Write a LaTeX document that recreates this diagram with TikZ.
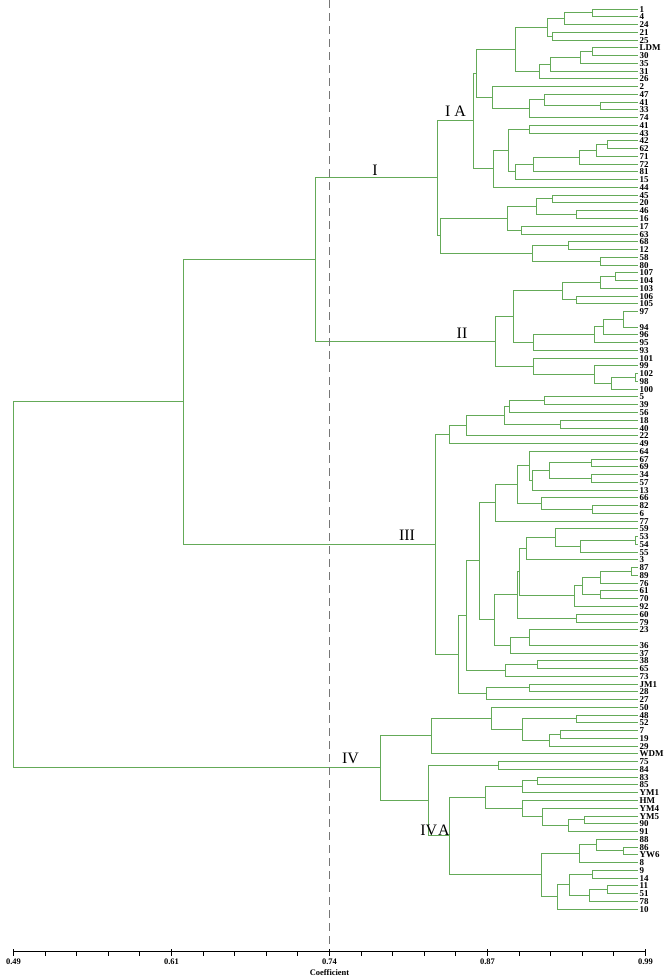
\documentclass[tikz,border=0pt]{standalone}
\usepackage{fontspec}
\setmainfont{Liberation Serif}
\usetikzlibrary{calc}
\definecolor{treegreen}{RGB}{100,170,88}
\definecolor{dashgray}{RGB}{118,118,118}
\newdimen\mgdim
\makeatletter
\newcommand\mergenode[4]{%
  \coordinate (#1-m) at ($(#3)!.5!(#4)$);
  \pgfextracty{\mgdim}{\pgfpointanchor{#1-m}{center}}%
  \pgfmathsetmacro\mgy{floor(0-(\strip@pt\mgdim)*0.99626)+0.5}%
  \coordinate (#1) at ({floor(#2)+0.5},\mgy);
  \draw[br] (#3) -| (#1) |- (#4);}
\makeatother
\newcommand\leafnode[3]{%
  \coordinate (#1) at (637.5,{floor(9+(#2-1)*7.76)+0.5});
  \node[lflab] (t#1) at (639.5,{floor(9+(#2-1)*7.76)+0.5}) {#3};}
\begin{document}
\begin{tikzpicture}[x=1bp,y=-1bp,
  br/.style={draw=treegreen,line width=1bp},
  lflab/.style={anchor=west,inner sep=0pt,font=\fontsize{9}{9}\selectfont\bfseries,text height=6pt,text depth=0pt},
  grp/.style={anchor=base,inner sep=0pt,font=\fontsize{16}{16}\selectfont},
  tklab/.style={anchor=base,inner sep=0pt,font=\fontsize{8.5}{8.5}\selectfont\bfseries},
  axisline/.style={draw=black,line width=1.5bp},
  tick/.style={draw=black,line width=1bp},
  cut/.style={draw=dashgray,line width=1.6bp,dash pattern=on 8bp off 5bp}]
\useasboundingbox (0,0) rectangle (667,979);
% leaves
\leafnode{L1}{1}{1}
\leafnode{L2}{2}{4}
\leafnode{L3}{3}{24}
\leafnode{L4}{4}{21}
\leafnode{L5}{5}{25}
\leafnode{L6}{6}{LDM}
\leafnode{L7}{7}{30}
\leafnode{L8}{8}{35}
\leafnode{L9}{9}{31}
\leafnode{L10}{10}{26}
\leafnode{L11}{11}{2}
\leafnode{L12}{12}{47}
\leafnode{L13}{13}{41}
\leafnode{L14}{14}{33}
\leafnode{L15}{15}{74}
\leafnode{L16}{16}{41}
\leafnode{L17}{17}{43}
\leafnode{L18}{18}{42}
\leafnode{L19}{19}{62}
\leafnode{L20}{20}{71}
\leafnode{L21}{21}{72}
\leafnode{L22}{22}{81}
\leafnode{L23}{23}{15}
\leafnode{L24}{24}{44}
\leafnode{L25}{25}{45}
\leafnode{L26}{26}{20}
\leafnode{L27}{27}{46}
\leafnode{L28}{28}{16}
\leafnode{L29}{29}{17}
\leafnode{L30}{30}{63}
\leafnode{L31}{31}{68}
\leafnode{L32}{32}{12}
\leafnode{L33}{33}{58}
\leafnode{L34}{34}{80}
\leafnode{L35}{35}{107}
\leafnode{L36}{36}{104}
\leafnode{L37}{37}{103}
\leafnode{L38}{38}{106}
\leafnode{L39}{39}{105}
\leafnode{L40}{40}{97}
\leafnode{L42}{42}{94}
\leafnode{L43}{43}{96}
\leafnode{L44}{44}{95}
\leafnode{L45}{45}{93}
\leafnode{L46}{46}{101}
\leafnode{L47}{47}{99}
\leafnode{L48}{48}{102}
\leafnode{L49}{49}{98}
\leafnode{L50}{50}{100}
\leafnode{L51}{51}{5}
\leafnode{L52}{52}{39}
\leafnode{L53}{53}{56}
\leafnode{L54}{54}{18}
\leafnode{L55}{55}{40}
\leafnode{L56}{56}{22}
\leafnode{L57}{57}{49}
\leafnode{L58}{58}{64}
\leafnode{L59}{59}{67}
\leafnode{L60}{60}{69}
\leafnode{L61}{61}{34}
\leafnode{L62}{62}{57}
\leafnode{L63}{63}{13}
\leafnode{L64}{64}{66}
\leafnode{L65}{65}{82}
\leafnode{L66}{66}{6}
\leafnode{L67}{67}{77}
\leafnode{L68}{68}{59}
\leafnode{L69}{69}{53}
\leafnode{L70}{70}{54}
\leafnode{L71}{71}{55}
\leafnode{L72}{72}{3}
\leafnode{L73}{73}{87}
\leafnode{L74}{74}{89}
\leafnode{L75}{75}{76}
\leafnode{L76}{76}{61}
\leafnode{L77}{77}{70}
\leafnode{L78}{78}{92}
\leafnode{L79}{79}{60}
\leafnode{L80}{80}{79}
\leafnode{L81}{81}{23}
\leafnode{L83}{83}{36}
\leafnode{L84}{84}{37}
\leafnode{L85}{85}{38}
\leafnode{L86}{86}{65}
\leafnode{L87}{87}{73}
\leafnode{L88}{88}{JM1}
\leafnode{L89}{89}{28}
\leafnode{L90}{90}{27}
\leafnode{L91}{91}{50}
\leafnode{L92}{92}{48}
\leafnode{L93}{93}{52}
\leafnode{L94}{94}{7}
\leafnode{L95}{95}{19}
\leafnode{L96}{96}{29}
\leafnode{L97}{97}{WDM}
\leafnode{L98}{98}{75}
\leafnode{L99}{99}{84}
\leafnode{L100}{100}{83}
\leafnode{L101}{101}{85}
\leafnode{L102}{102}{YM1}
\leafnode{L103}{103}{HM}
\leafnode{L104}{104}{YM4}
\leafnode{L105}{105}{YM5}
\leafnode{L106}{106}{90}
\leafnode{L107}{107}{91}
\leafnode{L108}{108}{88}
\leafnode{L109}{109}{86}
\leafnode{L110}{110}{YW6}
\leafnode{L111}{111}{8}
\leafnode{L112}{112}{9}
\leafnode{L113}{113}{14}
\leafnode{L114}{114}{11}
\leafnode{L115}{115}{51}
\leafnode{L116}{116}{78}
\leafnode{L117}{117}{10}
% cluster I
\mergenode{a1}{592}{L1}{L2}
\mergenode{a2}{564.3}{a1}{L3}
\mergenode{a3}{552.7}{L4}{L5}
\mergenode{a4}{547.3}{a2}{a3}
\mergenode{b1}{592}{L6}{L7}
\mergenode{b2}{580}{b1}{L8}
\mergenode{b3}{550.3}{b2}{L9}
\mergenode{b4}{539.3}{b3}{L10}
\mergenode{c1}{515.7}{a4}{b4}
\mergenode{d1}{600}{L13}{L14}
\mergenode{d2}{544.3}{L12}{d1}
\mergenode{d3}{529.3}{d2}{L15}
\mergenode{d4}{492}{L11}{d3}
\mergenode{e1}{476.3}{c1}{d4}
\mergenode{f1}{529.3}{L16}{L17}
\mergenode{f2}{607.3}{L18}{L19}
\mergenode{f3}{596}{f2}{L20}
\mergenode{f4}{579.3}{f3}{L21}
\mergenode{f5}{533}{f4}{L22}
\mergenode{f6}{515}{f5}{L23}
\mergenode{f7}{508.3}{f1}{f6}
\mergenode{f8}{493.3}{f7}{L24}
\mergenode{IA}{473.7}{e1}{f8}
\mergenode{g1}{552.7}{L25}{L26}
\mergenode{g2}{576.7}{L27}{L28}
\mergenode{g3}{536.7}{g1}{g2}
\mergenode{g4}{521.7}{L29}{L30}
\mergenode{g5}{507.7}{g3}{g4}
\mergenode{h1}{568.7}{L31}{L32}
\mergenode{h2}{600}{L33}{L34}
\mergenode{h3}{532.7}{h1}{h2}
\mergenode{g6}{440}{g5}{h3}
\mergenode{cI}{437.3}{IA}{g6}
% cluster II
\mergenode{i1}{615.3}{L35}{L36}
\mergenode{i2}{600}{i1}{L37}
\mergenode{i3}{576.7}{L38}{L39}
\mergenode{i4}{562}{i2}{i3}
\mergenode{j1}{623.3}{L40}{L42}
\mergenode{j2}{603.3}{j1}{L43}
\mergenode{j3}{594.3}{j2}{L44}
\mergenode{j4}{533}{j3}{L45}
\mergenode{k1}{513.3}{i4}{j4}
\mergenode{l1}{635}{L48}{L49}
\mergenode{l2}{611}{l1}{L50}
\mergenode{l3}{594.3}{L47}{l2}
\mergenode{l4}{533}{L46}{l3}
\mergenode{cII}{495.3}{k1}{l4}
\mergenode{n315}{315}{cI}{cII}
% cluster III
\mergenode{p1}{544.3}{L51}{L52}
\mergenode{p2}{509.3}{p1}{L53}
\mergenode{p3}{560.3}{L54}{L55}
\mergenode{p4}{504.3}{p2}{p3}
\mergenode{p5}{466}{p4}{L56}
\mergenode{p6}{449.3}{p5}{L57}
\mergenode{q1}{591.7}{L59}{L60}
\mergenode{q2}{591.7}{L61}{L62}
\mergenode{q3}{549}{q1}{q2}
\mergenode{q4}{532.7}{q3}{L63}
\mergenode{q5}{529.3}{L58}{q4}
\mergenode{q6}{592}{L65}{L66}
\mergenode{q7}{541}{L64}{q6}
\mergenode{q8}{517.3}{q5}{q7}
\mergenode{q9}{495.3}{q8}{L67}
\mergenode{r1}{635}{L69}{L70}
\mergenode{r2}{580.7}{r1}{L71}
\mergenode{r3}{555.7}{L68}{r2}
\mergenode{r4}{526.7}{r3}{L72}
\mergenode{s1}{631.7}{L73}{L74}
\mergenode{s2}{600}{s1}{L75}
\mergenode{s3}{600.7}{L76}{L77}
\mergenode{s4}{582.5}{s2}{s3}
\mergenode{s5}{574.5}{s4}{L78}
\mergenode{t1}{519.3}{r4}{s5}
\mergenode{t2}{576.7}{L79}{L80}
\mergenode{t3}{517.7}{t1}{t2}
\mergenode{u1}{529}{L81}{L83}
\mergenode{u2}{510}{u1}{L84}
\mergenode{u3}{494.3}{t3}{u2}
\mergenode{u4}{479.3}{q9}{u3}
\mergenode{v1}{537.3}{L85}{L86}
\mergenode{v2}{505.7}{v1}{L87}
\mergenode{u5}{466}{u4}{v2}
\mergenode{w1}{529}{L88}{L89}
\mergenode{w2}{486.7}{w1}{L90}
\mergenode{w3}{458.5}{u5}{w2}
\mergenode{cIII}{435.5}{p6}{w3}
\mergenode{n183}{183}{n315}{cIII}
% cluster IV
\mergenode{x1}{576.7}{L92}{L93}
\mergenode{x2}{560.7}{L94}{L95}
\mergenode{x3}{549}{x2}{L96}
\mergenode{x4}{522.7}{x1}{x3}
\mergenode{x5}{491.7}{L91}{x4}
\mergenode{x6}{431.7}{x5}{L97}
\mergenode{y1}{498.3}{L98}{L99}
\mergenode{y2}{537.3}{L100}{L101}
\mergenode{y3}{522}{y2}{L102}
\mergenode{y4}{584.3}{L105}{L106}
\mergenode{y5}{568.7}{y4}{L107}
\mergenode{y6}{542.3}{L104}{y5}
\mergenode{y7}{522}{L103}{y6}
\mergenode{y8}{485.7}{y3}{y7}
\mergenode{z1}{623.3}{L109}{L110}
\mergenode{z2}{596}{L108}{z1}
\mergenode{z3}{579}{z2}{L111}
\mergenode{z4}{592.3}{L112}{L113}
\mergenode{z5}{607.7}{L114}{L115}
\mergenode{z6}{589.3}{z5}{L116}
\mergenode{z7}{569.3}{z4}{z6}
\mergenode{z8}{557.7}{z7}{L117}
\mergenode{z9}{541}{z3}{z8}
\mergenode{IVA}{449.3}{y8}{z9}
\mergenode{y9}{428.3}{y1}{IVA}
\mergenode{cIV}{380.7}{x6}{y9}
\mergenode{root}{13}{n183}{cIV}
% group labels
\node[grp] (labI) at (375,175) {I};
\node[grp] (labIA) at (455.5,116.5) {I A};
\node[grp] (labII) at (462,338) {II};
\node[grp] (labIII) at (407,540) {III};
\node[grp] (labIV) at (350.5,763) {IV};
\node[grp] (labIVA) at (435,835) {IV\kern1pt A};
% cut line
\coordinate (cut0) at (329.5,0);
\coordinate (cut1) at (329.5,947);
\draw[cut] (cut0) -- (cut1);
% axis
\coordinate (ax0) at (13.5,951.5);
\coordinate (ax1) at (645.5,951.5);
\draw[axisline] (ax0) -- (ax1);
\foreach \i in {0,...,20}{
  \pgfmathsetmacro\tx{13.5+\i*31.6}
  \pgfmathtruncatemacro\ismaj{(mod(\i,5)==0)?1:0}
  \ifnum\ismaj=1
    \draw[tick] (\tx,949) -- (\tx,956);
  \else
    \draw[tick] (\tx,951.5) -- (\tx,955.5);
  \fi
}
\node[tklab] (k1) at (13.5,964.5) {0.49};
\node[tklab] (k2) at (171.5,964.5) {0.61};
\node[tklab] (k3) at (329.5,964.5) {0.74};
\node[tklab] (k4) at (487.5,964.5) {0.87};
\node[tklab] (k5) at (645.5,964.5) {0.99};
\node[tklab] (coef) at (329.5,975) {Coefficient};
\end{tikzpicture}
\end{document}
